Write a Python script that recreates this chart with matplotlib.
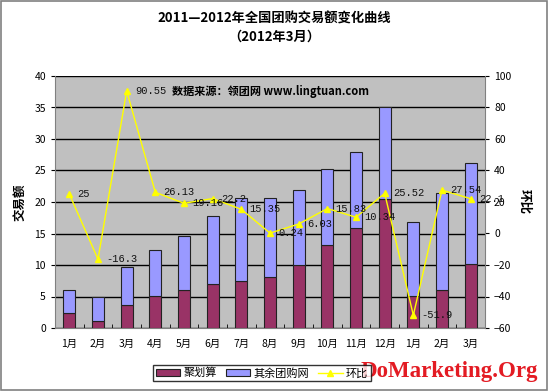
import matplotlib
matplotlib.use("Agg")
import matplotlib.pyplot as plt
from matplotlib.patches import Rectangle
import numpy as np

plt.rcParams['font.family'] = ['Noto Sans CJK SC', 'DejaVu Sans']

months = ["1月", "2月", "3月", "4月", "5月", "6月", "7月", "8月", "9月",
          "10月", "11月", "12月", "1月", "2月", "3月"]
juhuasuan = [2.4, 1.1, 3.65, 5.15, 6.05, 7.0, 7.5, 8.1, 10.0, 13.15, 15.9, 20.4, 5.1, 6.0, 10.2]
total = [6.05, 4.95, 9.7, 12.35, 14.65, 17.8, 20.65, 20.7, 21.9, 25.3, 28.0, 35.1, 16.85, 21.45, 26.2]
huanbi = [25, -16.3, 90.55, 26.13, 19.16, 22.2, 15.35, 0.24, 6.03, 15.83, 10.34, 25.52, -51.9, 27.54, 22.1]
huanbi_labels = ["25", "-16.3", "90.55", "26.13", "19.16", "22.2", "15.35", "0.24", "6.03",
                 "15.83", "10.34", "25.52", "-51.9", "27.54", "22.1"]
others = [t - j for t, j in zip(total, juhuasuan)]

fig = plt.figure(figsize=(5.48, 3.91), dpi=100)
fig.patch.set_facecolor("white")
fig.add_artist(Rectangle((0.002, 0.003), 0.996, 0.994, transform=fig.transFigure,
                         fill=False, edgecolor="#808080", linewidth=1.2))

ax = fig.add_axes([55/548, 63/391, 430/548, 252/391])
ax.set_facecolor("#C0C0C0")
x = np.arange(len(months))
w = 0.43
ax.bar(x, juhuasuan, w, color="#993366", edgecolor="#222222", linewidth=0.8, zorder=3,
       label="聚划算")
ax.bar(x, others, w, bottom=juhuasuan, color="#9999FF", edgecolor="#222222", linewidth=0.8,
       zorder=3, label="其余团购网")
ax.set_ylim(0, 40)
ax.set_yticks(range(0, 41, 5))
ax.set_xlim(-0.5, len(months) - 0.5)
ax.set_xticks(x)
ax.set_xticklabels(months, fontsize=7.5)
ax.set_xticks(np.arange(-0.5, len(months), 1), minor=True)
ax.tick_params(axis='x', which='major', length=0, pad=8)
ax.tick_params(axis='x', which='minor', length=3, direction='in')
ax.tick_params(axis='y', labelsize=7.5, length=3, direction='out')
ax.grid(axis='y', color="black", linewidth=1.0, zorder=1)
for s in ["top", "right"]:
    ax.spines[s].set_visible(False)
ax.spines["left"].set_color("#808080")
ax.spines["bottom"].set_color("#808080")
ax.set_ylabel("交易额", fontsize=9, fontweight="bold", labelpad=6)

ax2 = ax.twinx()
ax2.set_ylim(-60, 100)
ax2.set_yticks(range(-60, 101, 20))
ax2.tick_params(axis='y', labelsize=7.5, length=3)
for s in ["top", "left", "bottom"]:
    ax2.spines[s].set_visible(False)
ax2.spines["right"].set_color("#808080")
ln, = ax2.plot(x, huanbi, color="#FFFF00", linewidth=1.0, marker="^", markersize=5,
               markerfacecolor="#FFFF00", markeredgecolor="#FFFF00", zorder=5, label="环比")
for xi, yi, lab in zip(x, huanbi, huanbi_labels):
    ax2.annotate(lab, (xi, yi), xytext=(6, 0), textcoords="offset points",
                 fontsize=7.5, va="center", ha="left", color="#111111",
                 family=["Liberation Mono", "DejaVu Sans Mono"], zorder=6)
ax2.set_ylabel("环比", fontsize=9, fontweight="bold", rotation=270, labelpad=14)

ax.text(0.5, 0.94, "数据来源：领团网 www.lingtuan.com", transform=ax.transAxes,
        ha="center", va="center", fontsize=8, fontweight="bold", zorder=6)

fig.text(0.5, 1 - 19/391, "2011—2012年全国团购交易额变化曲线", ha="center", va="center",
         fontsize=9.5, fontweight="bold")
fig.text(0.5, 1 - 37/391, "（2012年3月）", ha="center", va="center",
         fontsize=9.5, fontweight="bold")

handles = [ax.containers[0], ax.containers[1], ln]
leg = fig.legend(handles, ["聚划算", "其余团购网", "环比"], loc="center",
                 bbox_to_anchor=(262/548, 1 - 373/391), ncol=3, fontsize=8,
                 frameon=True, fancybox=False, edgecolor="black", handlelength=2.2,
                 handletextpad=0.3, columnspacing=0.8, borderpad=0.25)
leg.get_frame().set_linewidth(1.0)

fig.text(449/548, 1 - 371/391, "DoMarketing.Org", ha="center", va="center",
         fontsize=16.5, fontweight="bold", color="#E31B23", family="Liberation Serif")

fig.savefig("out.png", dpi=100)
